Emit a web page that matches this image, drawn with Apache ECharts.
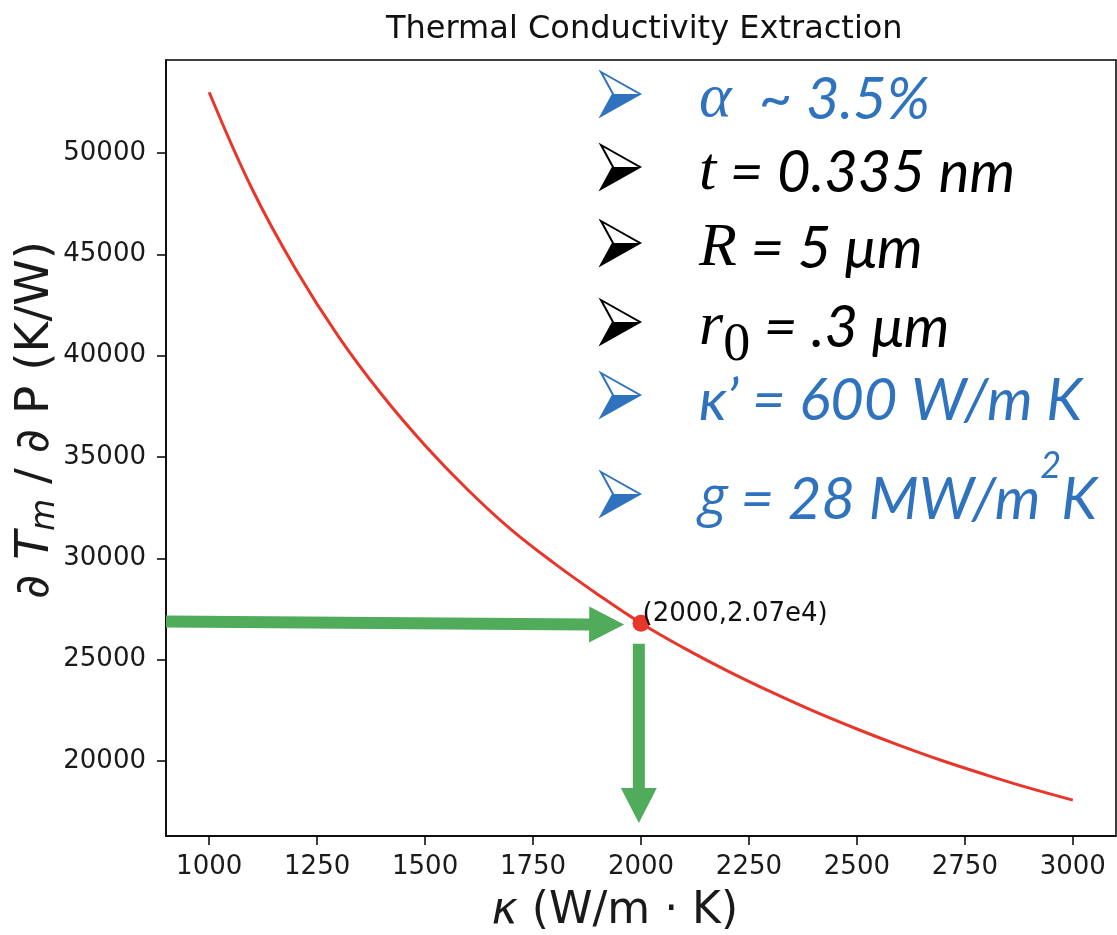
<!DOCTYPE html>
<html>
<head>
<meta charset="utf-8">
<title>Thermal Conductivity Extraction</title>
<script src="https://cdn.jsdelivr.net/npm/echarts@6/dist/echarts.min.js"></script>
<style>
  html, body { margin: 0; padding: 0; background: #fff; }
  #main { width: 1117px; height: 935px; }
</style>
</head>
<body>
<div id="main"></div>
<script>
// values
var kappa = [1000, 1100, 1200, 1300, 1400, 1500, 1600, 1700, 1800, 1900, 2000,
             2100, 2200, 2300, 2400, 2500, 2600, 2700, 2800, 2900, 3000];
var dTdP = [53000, 48200, 44280, 40930, 38070, 35570, 33360, 31400, 29740, 28220, 26800,
            25570, 24450, 23420, 22460, 21580, 20760, 20000, 19310, 18660, 18070];
var xTicks = [1000, 1250, 1500, 1750, 2000, 2250, 2500, 2750, 3000];
var yTicks = [20000, 25000, 30000, 35000, 40000, 45000, 50000];
var pickPoint = [2000, 26800];
var pickLabel = '(2000,2.07e4)';
// green guide arrows, start -> tip, in data units
var guideArrows = [
    [900, 26880, 1961, 26730],
    [1995, 25790, 1995, 16940]
];
var paramText = [
    '{m|α}{c|  ~ 3.5%}',
    '{m|t}{c| = 0.335 nm}',
    '{m|R}{c| = 5 μm}',
    '{m|r}{s|0}{c| = .3 μm}',
    '{c|κ’ = 600 W/m K}',
    '{g|g}{c| = 28 MW/m}{p|2}{c|K}'
];

var blue = '#2f73be';
var green = '#50ab5a';
var red = '#e8362b';

var myChart = echarts.init(document.getElementById('main'));

// parameter list on the right, each row with a 3d arrowhead bullet
var rowY = [100, 173, 249, 328, 401, 500];
var blueRows = [0, 4, 5];
var graphics = [];
paramText.forEach(function (t, i) {
    var col = blueRows.indexOf(i) >= 0 ? blue : '#000';
    var y = rowY[i] - 6;
    graphics.push({
        type: 'polygon', z: 10,
        shape: { points: [[601, y - 22], [640, y], [601, y + 22], [613, y]] },
        style: { fill: '#fff', stroke: col, lineWidth: 2, lineJoin: 'miter' }
    });
    graphics.push({
        type: 'polygon', z: 11,
        shape: { points: [[613, y], [640, y], [601, y + 22]] },
        style: { fill: col }
    });
    graphics.push({
        type: 'text', x: 699, y: rowY[i], z: 10,
        style: {
            text: t, fill: col, verticalAlign: 'middle',
            rich: {
                c: { fill: col, fontFamily: 'Lato', fontStyle: 'italic', fontSize: 58, lineHeight: 64 },
                g: { fill: col, fontFamily: 'Open Sans', fontStyle: 'italic', fontSize: 54, lineHeight: 64 },
                m: { fill: col, fontFamily: 'Liberation Serif', fontStyle: 'italic', fontSize: 62, lineHeight: 64 },
                s: { fill: col, fontFamily: 'Liberation Serif', fontSize: 54, lineHeight: 54, padding: [36, 0, 0, 0] },
                p: { fill: col, fontFamily: 'Lato', fontStyle: 'italic', fontSize: 36, lineHeight: 36, padding: [0, 0, 68, 0] }
            }
        }
    });
});

var option = {
    animation: false,
    backgroundColor: '#fff',
    title: {
        text: 'Thermal Conductivity Extraction',
        left: 381,
        top: 9,
        textStyle: { fontFamily: 'DejaVu Sans', fontWeight: 'normal', fontSize: 32, color: '#111' }
    },
    grid: {
        left: 166, top: 60, right: 1, bottom: 99,
        outerBoundsMode: 'none',
        show: true, borderColor: '#000', borderWidth: 1.5
    },
    xAxis: {
        type: 'value',
        min: 900, max: 3100,
        splitLine: { show: false },
        axisLine: { lineStyle: { color: '#000', width: 1.5 } },
        axisTick: { customValues: xTicks, length: 9, lineStyle: { color: '#000', width: 1.5 } },
        axisLabel: {
            customValues: xTicks, margin: 18,
            formatter: function (v) { return String(v); },
            fontFamily: 'DejaVu Sans', fontSize: 26, color: '#1a1a1a'
        },
        name: '{i|κ}{n| (W/m · K)}',
        nameLocation: 'middle',
        nameGap: 54,
        nameMoveOverlap: false,
        nameTextStyle: {
            padding: [0, 52, 0, 0],
            rich: {
                i: { fontFamily: 'DejaVu Sans', fontStyle: 'italic', fontSize: 44, color: '#1a1a1a' },
                n: { fontFamily: 'DejaVu Sans', fontSize: 44, color: '#1a1a1a' }
            }
        }
    },
    yAxis: {
        type: 'value',
        min: 16300, max: 54590,
        splitLine: { show: false },
        axisLine: { lineStyle: { color: '#000', width: 1.5 } },
        axisTick: { customValues: yTicks, length: 9, lineStyle: { color: '#000', width: 1.5 } },
        axisLabel: {
            customValues: yTicks, margin: 20,
            formatter: function (v) { return String(v); },
            fontFamily: 'DejaVu Sans', fontSize: 26, color: '#1a1a1a'
        },
        name: '{n|∂ }{i|T}{s|m}{n| / ∂ P (K/W)}',
        nameLocation: 'middle',
        nameGap: 104,
        nameMoveOverlap: false,
        nameTextStyle: {
            padding: [0, 0, 0, 56],
            rich: {
                n: { fontFamily: 'DejaVu Sans', fontSize: 47, lineHeight: 52, color: '#1a1a1a' },
                i: { fontFamily: 'DejaVu Sans', fontStyle: 'italic', fontSize: 47, lineHeight: 52, color: '#1a1a1a' },
                s: { fontFamily: 'DejaVu Sans', fontStyle: 'italic', fontSize: 33, lineHeight: 33, padding: [19, 0, 0, 0], color: '#1a1a1a' }
            }
        }
    },
    graphic: graphics,
    series: [{
        // curve
        type: 'line',
        data: kappa.map(function (k, i) { return [k, dTdP[i]]; }),
        smooth: 0.4,
        showSymbol: false,
        lineStyle: { color: red, width: 3 },
        z: 2
    }, {
        type: 'scatter',
        data: [pickPoint],
        symbolSize: 17,
        itemStyle: { color: red, opacity: 1 },
        label: {
            show: true,
            formatter: pickLabel,
            position: [10, 0],
            align: 'left',
            verticalAlign: 'middle',
            fontFamily: 'DejaVu Sans',
            fontSize: 26,
            color: '#111'
        },
        z: 4
    }, {
        type: 'custom',
        data: guideArrows,
        renderItem: function (params, api) {
            var p0 = api.coord([api.value(0), api.value(1)]);
            var p1 = api.coord([api.value(2), api.value(3)]);
            var dx = p1[0] - p0[0], dy = p1[1] - p0[1];
            var len = Math.sqrt(dx * dx + dy * dy);
            var ux = dx / len, uy = dy / len, nx = -uy, ny = ux;
            var headLen = 35, headHalf = 18, shaftHalf = 6;
            var bx = p1[0] - ux * headLen, by = p1[1] - uy * headLen;
            return {
                type: 'polygon',
                shape: {
                    points: [
                        [p0[0] + nx * shaftHalf, p0[1] + ny * shaftHalf],
                        [bx + nx * shaftHalf, by + ny * shaftHalf],
                        [bx + nx * headHalf, by + ny * headHalf],
                        p1,
                        [bx - nx * headHalf, by - ny * headHalf],
                        [bx - nx * shaftHalf, by - ny * shaftHalf],
                        [p0[0] - nx * shaftHalf, p0[1] - ny * shaftHalf]
                    ]
                },
                style: { fill: green }
            };
        },
        z: 3
    }]
};

myChart.setOption(option);
</script>
</body>
</html>
